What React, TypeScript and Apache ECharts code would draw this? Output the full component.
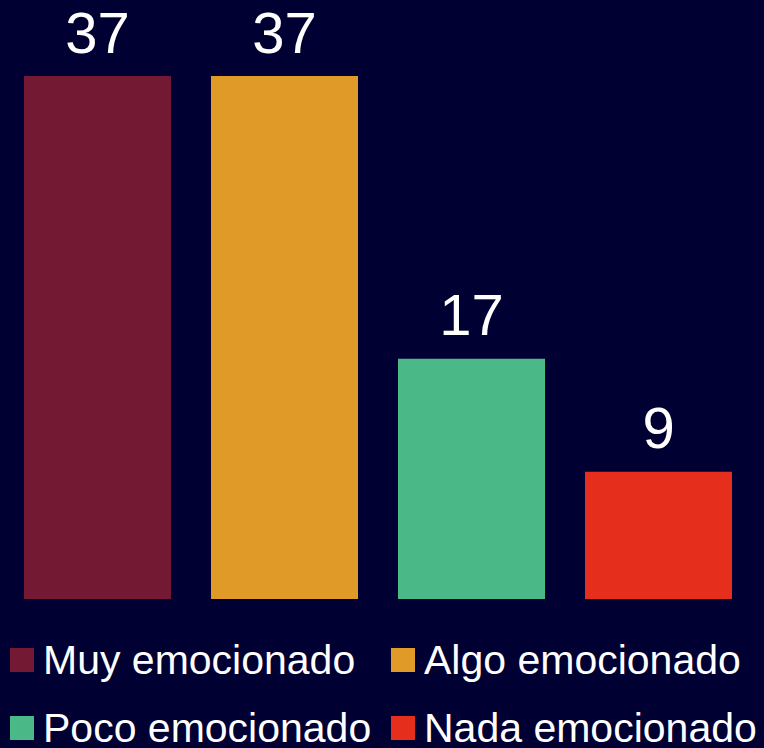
import React, { useEffect, useRef } from "react";
import * as echarts from "echarts";

const categories = ["Muy emocionado", "Algo emocionado", "Poco emocionado", "Nada emocionado"];
const values = [37, 37, 17, 9];
const colors = ["#731934", "#E09A27", "#4AB987", "#E52E1C"];

export default function App() {
  const ref = useRef<HTMLDivElement>(null);
  useEffect(() => {
    if (!ref.current) return;
    const chart = echarts.init(ref.current, null, { renderer: "svg" });
    const font = "'Liberation Sans', Arial, sans-serif";
    chart.setOption({
      animation: false,
      backgroundColor: "#000033",
      grid: { left: 4, right: 12, top: 76, bottom: 149, containLabel: false },
      xAxis: { type: "category", data: categories, show: false },
      yAxis: { type: "value", min: 0, max: 37, show: false },
      legend: {
        left: 10,
        top: 631,
        width: 760,
        padding: 0,
        itemWidth: 24,
        itemHeight: 24,
        itemGap: 10,
        icon: "rect",
        data: categories,
        textStyle: {
          color: "#ffffff",
          fontSize: 41,
          fontFamily: font,
          width: 338,
          lineHeight: 58,
          padding: [0, 0, 0, 4],
        },
      },
      series: categories.map((name, i) => ({
        name,
        type: "bar",
        stack: "all",
        barWidth: 147,
        data: values.map((v, j) => (j === i ? v : "-")),
        itemStyle: { color: colors[i] },
        label: {
          show: true,
          position: "top",
          distance: 15,
          color: "#ffffff",
          fontSize: 58,
          fontFamily: font,
        },
      })),
    });
    return () => chart.dispose();
  }, []);
  return (
    <div
      ref={ref}
      style={{ position: "absolute", left: 0, top: 0, width: 764, height: 748 }}
    />
  );
}
